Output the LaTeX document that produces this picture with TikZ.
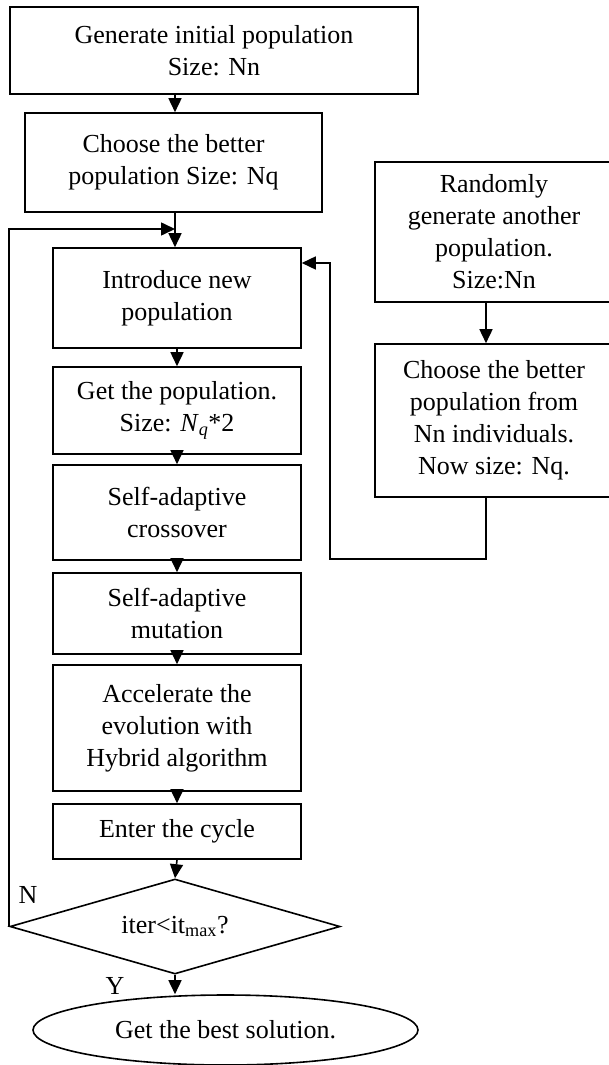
\documentclass[tikz,border=0pt]{standalone}
\usepackage{fontspec}
\setmainfont{Liberation Serif}
\usetikzlibrary{shapes.geometric,arrows.meta}
\begin{document}
\begin{tikzpicture}[x=1pt,y=-1pt,
  every node/.style={font=\fontsize{26}{32}\selectfont},
  box/.style={draw,line width=1.6pt,inner sep=0pt,align=center,minimum width=#1},
  box/.default={248pt},
  arr/.style={line width=1.6pt,-{Triangle[width=13pt,length=14pt]}},
  ln/.style={line width=1.6pt}]
\useasboundingbox (0,0) rectangle (609,1065);
\node[box=408pt,minimum height=87pt] (b1) at (214,50.5) {Generate initial population\\Size: Nn};
\node[box=297pt,minimum height=99pt] (b2) at (173.5,162.5) {\raisebox{6pt}{\begin{tabular}{@{}c@{}}Choose the better\\population Size: Nq\end{tabular}}};
\node[box,minimum height=100pt] (b3) at (177,298) {Introduce new\\population};
\node[box,minimum height=87pt] (b4) at (177,410.5) {Get the population.\\Size: \textit{N}\textsubscript{\textit{q}}*2};
\node[box,minimum height=95pt] (b5) at (177,512.5) {Self-adaptive\\crossover};
\node[box,minimum height=81pt] (b6) at (177,613.5) {Self-adaptive\\mutation};
\node[box,minimum height=126pt] (b7) at (177,728) {Accelerate the\\evolution with\\Hybrid algorithm};
\node[box,minimum height=55pt] (b8) at (177,831.5) {Enter the cycle};
\node[draw,line width=1.6pt,diamond,aspect=3.47,inner sep=0pt,minimum width=330pt,minimum height=95pt] (d) at (175,926.5) {iter<it\textsubscript{max}?};
\node[draw,line width=1.6pt,ellipse,inner sep=0pt,minimum width=385pt,minimum height=70pt] (e) at (225.5,1030) {Get the best solution.};
\node[box=238pt,minimum height=140pt] (ba) at (494,232) {Randomly\\generate another\\population.\\Size:Nn};
\node[box=238pt,minimum height=153pt] (bb) at (494,420.5) {Choose the better\\population from\\Nn individuals.\\Now size: Nq.};
\node (nl) at (28,895) {N};
\node (yl) at (115,986) {Y};
\coordinate (lp) at (175,229);
\coordinate (c1) at (330,559);
\coordinate (c2) at (330,263);
\draw[arr] (b1.south -| lp) -- (b2.north -| lp);
\draw[arr] (b2.south -| lp) -- (b3.north -| lp);
\draw[arr] (b3) -- (b4);
\draw[arr] (b4) -- (b5);
\draw[arr] (b5) -- (b6);
\draw[arr] (b6) -- (b7);
\draw[arr] (b7) -- (b8);
\draw[arr] (b8.south) -- (d.north);
\draw[arr] (d.south) -- (d.south |- e.north);
\draw[arr] (d.west) -- (d.west |- lp) -- (lp);
\draw[arr] ([xshift=-8pt]ba.south) -- ([xshift=-8pt]bb.north);
\draw[arr] ([xshift=-8pt]bb.south) |- (c1) -- (c2) -- (c2 -| b3.east);
\end{tikzpicture}
\end{document}
